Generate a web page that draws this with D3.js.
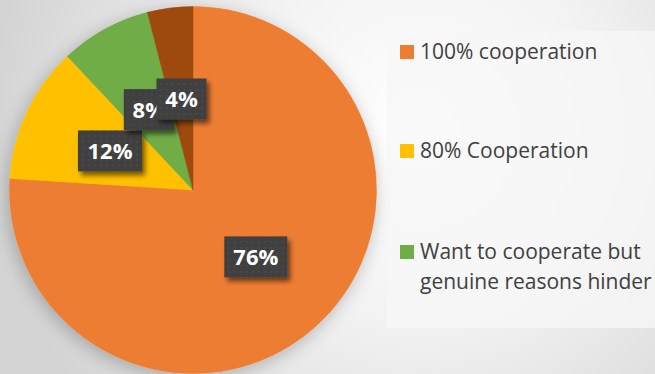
<!DOCTYPE html>
<html>
<head>
<meta charset="utf-8">
<script src="https://cdn.jsdelivr.net/npm/d3@7"></script>
<style>
html,body{margin:0;padding:0;overflow:hidden;}
svg{display:block;}
</style>
</head>
<body>
<svg id="chart" width="655" height="374"></svg>
<script>
const categories = ["100% cooperation", "80% Cooperation", "Want to cooperate but genuine reasons hinder", "Other"];
const values = [76, 12, 8, 4];
const labels = ["76%", "12%", "8%", "4%"];
const colors = ["#ED7D31", "#FFC000", "#70AD47", "#9E480E"];
const legendLines = [["100% cooperation"], ["80% Cooperation"], ["Want to cooperate but", "genuine reasons hinder"]];

const W = 655, H = 374;
const svg = d3.select("#chart");
const defs = svg.append("defs");

const bg = defs.append("radialGradient").attr("id", "bg")
  .attr("gradientUnits", "userSpaceOnUse")
  .attr("cx", 420).attr("cy", 130).attr("r", 430);
bg.append("stop").attr("offset", "0").attr("stop-color", "#ffffff");
bg.append("stop").attr("offset", "0.45").attr("stop-color", "#f2f2f2");
bg.append("stop").attr("offset", "1").attr("stop-color", "#d4d4d4");
svg.append("rect").attr("width", W).attr("height", H).attr("fill", "url(#bg)");

// legend panel
svg.append("rect").attr("x", 387).attr("y", 31).attr("width", 268).attr("height", 297)
  .attr("fill", "#f7f7f7").attr("opacity", 0.75);

const sh = defs.append("filter").attr("id", "pieShadow").attr("x", "-20%").attr("y", "-20%").attr("width", "140%").attr("height", "140%");
sh.append("feGaussianBlur").attr("in", "SourceAlpha").attr("stdDeviation", 9).attr("result", "b");
sh.append("feOffset").attr("in", "b").attr("dx", -2).attr("dy", 4).attr("result", "o");
sh.append("feComponentTransfer").attr("in", "o").attr("result", "o2")
  .append("feFuncA").attr("type", "linear").attr("slope", 0.25);
const m1 = sh.append("feMerge");
m1.append("feMergeNode").attr("in", "o2");
m1.append("feMergeNode").attr("in", "SourceGraphic");

const bs = defs.append("filter").attr("id", "boxShadow").attr("x", "-30%").attr("y", "-30%").attr("width", "170%").attr("height", "170%");
bs.append("feGaussianBlur").attr("in", "SourceAlpha").attr("stdDeviation", 2.5).attr("result", "b");
bs.append("feOffset").attr("in", "b").attr("dx", 3).attr("dy", 4).attr("result", "o");
bs.append("feComponentTransfer").attr("in", "o").attr("result", "o2")
  .append("feFuncA").attr("type", "linear").attr("slope", 0.55);
const m2 = bs.append("feMerge");
m2.append("feMergeNode").attr("in", "o2");
m2.append("feMergeNode").attr("in", "SourceGraphic");

const pat = defs.append("pattern").attr("id", "dots").attr("patternUnits", "userSpaceOnUse")
  .attr("width", 6).attr("height", 6);
pat.append("rect").attr("width", 6).attr("height", 6).attr("fill", "#404040");
pat.append("circle").attr("cx", 3).attr("cy", 3).attr("r", 1).attr("fill", "#4b4b4b");

const cx = 193, cy = 190, R = 183.5;
const pie = d3.pie().sort(null).value(d => d)(values);
const arc = d3.arc().innerRadius(0).outerRadius(R);

const g = svg.append("g").attr("transform", `translate(${cx},${cy})`);
const pg = g.append("g").attr("filter", "url(#pieShadow)");
pg.selectAll("path").data(pie).join("path")
  .attr("d", arc).attr("fill", (d, i) => colors[i])
  .attr("stroke", (d, i) => colors[i]).attr("stroke-width", 0.5);

// label boxes centred on arc centroids at half radius (Excel "center" label position)
const labelArc = d3.arc().innerRadius(R * 0.5).outerRadius(R * 0.5);
const boxW = [63, 64, 50, 50];
const boxH = 41;
const lg = g.append("g");
pie.forEach((d, i) => {
  const c = labelArc.centroid(d);
  const gg = lg.append("g").attr("transform", `translate(${c[0]},${c[1]})`);
  gg.append("rect").attr("x", -boxW[i] / 2).attr("y", -boxH / 2)
    .attr("width", boxW[i]).attr("height", boxH)
    .attr("fill", "url(#dots)").attr("filter", "url(#boxShadow)");
  gg.append("text").attr("text-anchor", "middle").attr("dy", "0.36em")
    .attr("font-family", "'Open Sans', sans-serif").attr("font-weight", "bold")
    .attr("font-size", 22).attr("fill", "#ffffff").text(labels[i]);
});

// legend
const lgY = [52, 151, 252];
const leg = svg.append("g");
legendLines.forEach((lines, i) => {
  leg.append("rect").attr("x", 400).attr("y", lgY[i] - 7).attr("width", 14).attr("height", 14)
    .attr("fill", colors[i]);
  lines.forEach((t, j) => {
    leg.append("text").attr("x", 420).attr("y", lgY[i] + 7 + j * 30)
      .attr("font-family", "'Open Sans', sans-serif").attr("font-size", 21)
      .attr("fill", "#404040").text(t);
  });
});
</script>
</body>
</html>
